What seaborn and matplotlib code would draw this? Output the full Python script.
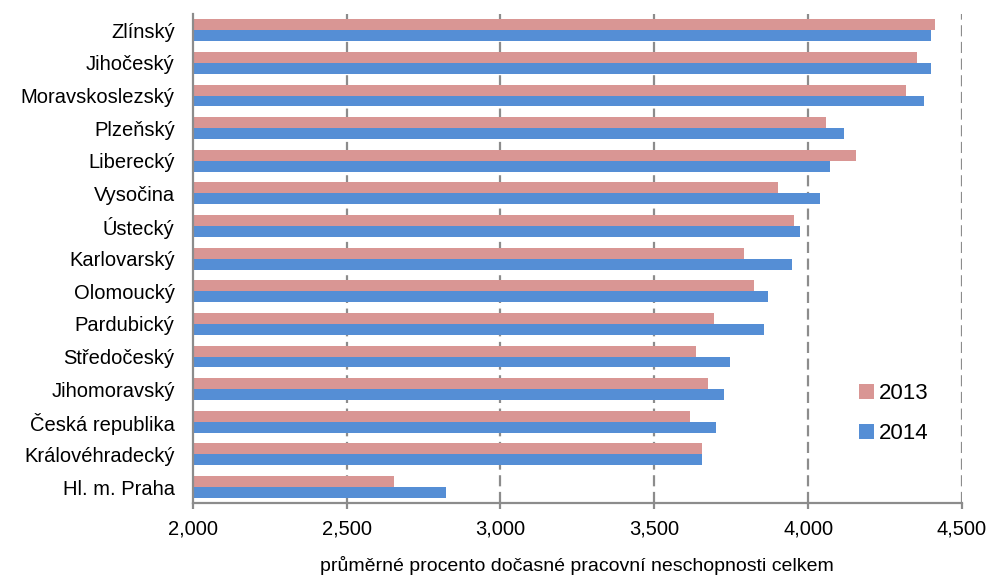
import seaborn as sns
import matplotlib.pyplot as plt
import pandas as pd

regions = ['Zlínský', 'Jihočeský', 'Moravskoslezský', 'Plzeňský', 'Liberecký',
           'Vysočina', 'Ústecký', 'Karlovarský', 'Olomoucký', 'Pardubický',
           'Středočeský', 'Jihomoravský', 'Česká republika', 'Královéhradecký',
           'Hl. m. Praha']
val_2013 = [4413, 4355, 4318, 4058, 4156, 3903, 3955, 3792, 3823, 3695,
            3636, 3674, 3616, 3656, 2654]
val_2014 = [4400, 4400, 4375, 4117, 4070, 4037, 3973, 3948, 3869, 3857,
            3747, 3726, 3701, 3656, 2823]

df = pd.DataFrame({
    'kraj': regions * 2,
    'hodnota': val_2013 + val_2014,
    'rok': ['2013'] * len(regions) + ['2014'] * len(regions),
})

sns.set_style('white')
plt.rcParams['font.family'] = ['Liberation Sans', 'DejaVu Sans']
plt.rcParams['text.color'] = 'black'
plt.rcParams['xtick.color'] = 'black'
plt.rcParams['ytick.color'] = 'black'
plt.rcParams['axes.labelcolor'] = 'black'

fig = plt.figure(figsize=(9.88, 5.79), dpi=100)
ax = fig.add_axes([0.195, 0.1307, 0.7787, 0.8451])

palette = {'2013': '#D99694', '2014': '#558ED5'}
sns.barplot(data=df, y='kraj', x='hodnota', hue='rok', order=regions,
            palette=palette, orient='h', width=0.67, saturation=1,
            linewidth=0, ax=ax)

ax.set_xlim(2000, 4500)
ax.set_ylim(len(regions) - 0.5, -0.5)
ax.set_xticks([2000, 2500, 3000, 3500, 4000, 4500])
ax.set_xticklabels(['2,000', '2,500', '3,000', '3,500', '4,000', '4,500'])
ax.set_ylabel('')
ax.set_xlabel('průměrné procento dočasné pracovní neschopnosti celkem',
              fontsize=14, labelpad=12)

for x in [2500, 3000, 3500, 4000, 4500]:
    ax.axvline(x, color='#8c8c8c', lw=1.6, ls=(0, (5, 2.5)), zorder=0)

for s in ['top', 'right']:
    ax.spines[s].set_visible(False)
for s in ['left', 'bottom']:
    ax.spines[s].set_color('#8c8c8c')
    ax.spines[s].set_linewidth(1.6)

ax.set_yticks([i - 0.5 for i in range(len(regions) + 1)], minor=True)
ax.tick_params(axis='y', which='major', length=0, pad=13, labelsize=14.5)
ax.tick_params(axis='y', which='minor', length=4, width=1.6, color='#8c8c8c',
               direction='out')
ax.tick_params(axis='x', length=4, width=1.6, color='#8c8c8c', direction='out',
               pad=8, labelsize=14.5, bottom=True)

leg = ax.legend(loc='center left', bbox_to_anchor=(0.84, 0.183), frameon=False,
                fontsize=16, handlelength=0.7, handleheight=0.7,
                handletextpad=0.2, labelspacing=0.85)

fig.savefig('out.png', dpi=100)
